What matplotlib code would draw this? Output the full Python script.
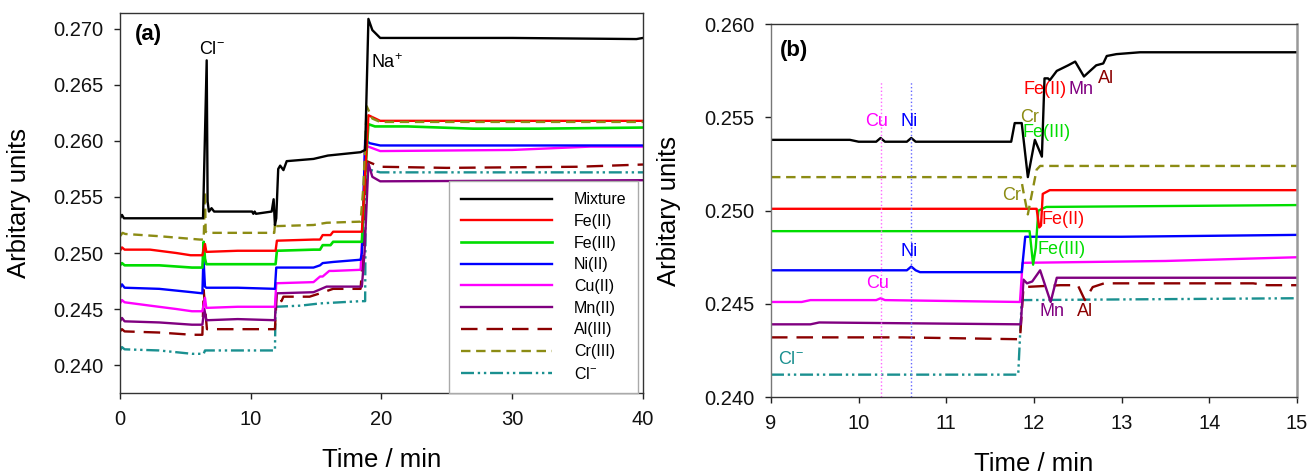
import matplotlib
matplotlib.use("Agg")
import matplotlib.pyplot as plt
from matplotlib.ticker import FormatStrFormatter

plt.rcParams['font.family'] = ['Liberation Sans', 'DejaVu Sans']
plt.rcParams['mathtext.fontset'] = 'custom'
plt.rcParams['mathtext.rm'] = 'Liberation Sans'
plt.rcParams['mathtext.it'] = 'Liberation Sans'
plt.rcParams['mathtext.bf'] = 'Liberation Sans:bold'

# ---- panel (a): full run, 0-40 min ----
mix_a_t = [0, 0.15, 0.3, 0.5, 6.35, 6.63, 6.7, 6.8, 7.0, 7.2, 10.1, 10.2, 10.3, 10.4, 11.6, 11.75, 11.85, 11.95, 12.1, 12.25, 12.5, 12.75, 14.8, 15.9, 18.4, 18.75, 19.0, 19.3, 19.9, 30, 39.5, 40]
mix_a_v = [0.2531, 0.2534, 0.2531, 0.2531, 0.2531, 0.2672, 0.2546, 0.2537, 0.2540, 0.2537, 0.2537, 0.2535, 0.2537, 0.2535, 0.2537, 0.2548, 0.2525, 0.2531, 0.2575, 0.2578, 0.2574, 0.2582, 0.2584, 0.2587, 0.2590, 0.2592, 0.2709, 0.2699, 0.2692, 0.2692, 0.2691, 0.2692]

fe2_a_t = [0, 0.15, 0.35, 2.3, 4.3, 5.4, 6.3, 6.5, 6.6, 9.0, 11.9, 12.0, 14.8, 15.3, 15.5, 16.1, 16.3, 18.5, 18.7, 19.0, 19.9, 30, 40]
fe2_a_v = [0.2502, 0.2505, 0.2503, 0.2503, 0.2500, 0.2498, 0.2498, 0.2508, 0.2501, 0.2502, 0.2502, 0.2511, 0.2512, 0.2512, 0.2516, 0.2516, 0.2519, 0.2519, 0.2560, 0.2623, 0.2618, 0.2618, 0.2618]

fe3_a_t = [0, 0.15, 0.35, 3.0, 5.5, 6.3, 6.4, 6.5, 6.6, 11.9, 12.0, 14.8, 15.3, 15.5, 16.1, 16.3, 18.5, 18.7, 19.0, 19.5, 22, 27, 32, 40]
fe3_a_v = [0.2489, 0.2491, 0.2489, 0.2489, 0.2487, 0.2487, 0.2510, 0.2495, 0.2490, 0.2490, 0.2502, 0.2503, 0.2503, 0.2507, 0.2507, 0.2510, 0.2510, 0.2560, 0.2615, 0.2613, 0.2613, 0.2611, 0.2611, 0.2612]

ni_a_t = [0, 0.15, 0.35, 3.0, 5.5, 6.3, 6.38, 6.5, 6.6, 9.0, 11.85, 11.95, 14.8, 15.3, 15.5, 16.3, 18.4, 18.5, 18.75, 19.1, 19.9, 40]
ni_a_v = [0.2469, 0.2472, 0.2469, 0.2468, 0.2465, 0.2464, 0.2496, 0.2470, 0.2469, 0.2469, 0.2468, 0.2487, 0.2487, 0.2489, 0.2491, 0.2492, 0.2494, 0.2500, 0.2601, 0.2598, 0.2596, 0.2596]

cu_a_t = [0, 0.15, 0.35, 2.3, 4.3, 5.5, 6.3, 6.5, 6.6, 9.0, 11.85, 11.95, 14.8, 15.3, 15.5, 16.0, 16.3, 18.4, 18.55, 18.75, 19.9, 30, 36, 40]
cu_a_v = [0.2455, 0.2458, 0.2456, 0.2453, 0.2450, 0.2448, 0.2448, 0.2460, 0.2451, 0.2452, 0.2452, 0.2473, 0.2474, 0.2479, 0.2479, 0.2484, 0.2484, 0.2485, 0.2520, 0.2596, 0.2591, 0.2592, 0.2595, 0.2595]

mn_a_t = [0, 0.15, 0.35, 3.0, 5.5, 6.3, 6.45, 6.6, 6.7, 9.0, 11.85, 11.95, 14.8, 15.8, 16.3, 18.5, 18.7, 19.0, 19.3, 19.9, 40]
mn_a_v = [0.2439, 0.2442, 0.2439, 0.2438, 0.2436, 0.2436, 0.2450, 0.2440, 0.2440, 0.2441, 0.2440, 0.2464, 0.2465, 0.2470, 0.2470, 0.2470, 0.2500, 0.2580, 0.2568, 0.2564, 0.2565]

al_a_t = [0, 0.15, 0.35, 3.0, 5.5, 6.3, 6.4, 6.55, 6.65, 9.0, 11.85, 11.99, 12.2, 12.35, 12.5, 12.75, 14.5, 15.3, 16.3, 18.4, 18.6, 18.87, 19.9, 25, 35, 40]
al_a_v = [0.2430, 0.2432, 0.2430, 0.2429, 0.2427, 0.2427, 0.2467, 0.2445, 0.2432, 0.2432, 0.2432, 0.2464, 0.2462, 0.2457, 0.2461, 0.2461, 0.2461, 0.2464, 0.2468, 0.2468, 0.2500, 0.2582, 0.2577, 0.2576, 0.2577, 0.2579]

cr_a_t = [0, 0.2, 0.4, 3.0, 6.1, 6.4, 6.5, 6.55, 6.7, 11.8, 11.86, 11.95, 14.8, 15.8, 18.4, 18.62, 18.87, 19.3, 19.9, 40]
cr_a_v = [0.2515, 0.2518, 0.2517, 0.2515, 0.2512, 0.2512, 0.2555, 0.2519, 0.2518, 0.2518, 0.2527, 0.2524, 0.2525, 0.2527, 0.2528, 0.2560, 0.2631, 0.2620, 0.2617, 0.2617]

cl_a_t = [0, 0.15, 0.35, 3.0, 5.5, 6.4, 6.5, 6.6, 9.0, 11.85, 11.9, 13.8, 15.3, 18.4, 18.75, 18.8, 19.2, 19.9, 40]
cl_a_v = [0.2413, 0.2416, 0.2414, 0.2413, 0.2410, 0.2410, 0.2413, 0.2413, 0.2413, 0.2413, 0.2452, 0.2453, 0.2455, 0.2457, 0.2457, 0.2574, 0.2574, 0.2572, 0.2572]

# ---- panel (b): zoom 9-15 min ----
mix_b_t = [9, 9.9, 10.0, 10.2, 10.25, 10.3, 10.55, 10.6, 10.65, 11.0, 11.74, 11.78, 11.86, 11.93, 12.01, 12.09, 12.12, 12.16, 12.18, 12.26, 12.39, 12.47, 12.57, 12.71, 12.79, 12.83, 12.94, 13.21, 15]
mix_b_v = [0.2538, 0.2538, 0.2537, 0.2537, 0.2539, 0.2537, 0.2537, 0.2539, 0.2537, 0.2537, 0.2537, 0.2547, 0.2547, 0.2518, 0.2538, 0.2529, 0.2571, 0.2571, 0.2570, 0.2575, 0.2578, 0.2580, 0.2572, 0.2578, 0.2579, 0.2583, 0.2584, 0.2585, 0.2585]

fe2_b_t = [9, 12.03, 12.06, 12.08, 12.1, 12.18, 15]
fe2_b_v = [0.2501, 0.2501, 0.2491, 0.2492, 0.2509, 0.2511, 0.2511]

fe3_b_t = [9, 11.95, 11.97, 11.99, 12.02, 12.05, 12.14, 15]
fe3_b_v = [0.2489, 0.2489, 0.2480, 0.2471, 0.2480, 0.2500, 0.2502, 0.2503]

ni_b_t = [9, 10.5, 10.55, 10.6, 10.65, 10.7, 11.86, 11.9, 13, 15]
ni_b_v = [0.2468, 0.2468, 0.2468, 0.2470, 0.2468, 0.2467, 0.2467, 0.2486, 0.2486, 0.2487]

cu_b_t = [9, 9.35, 9.45, 10.2, 10.25, 10.3, 11.84, 11.87, 13.5, 15]
cu_b_v = [0.2451, 0.2451, 0.2452, 0.2452, 0.2453, 0.2452, 0.2451, 0.2472, 0.2473, 0.2475]

mn_b_t = [9, 9.45, 9.55, 11.85, 11.88, 11.92, 11.98, 12.07, 12.19, 12.26, 15]
mn_b_v = [0.2439, 0.2439, 0.2440, 0.2439, 0.2463, 0.2461, 0.2462, 0.2468, 0.2451, 0.2464, 0.2464]

al_b_t = [9, 10.5, 11.84, 11.88, 12.3, 12.5, 12.58, 12.67, 12.8, 14.5, 14.66, 15]
al_b_v = [0.2432, 0.2432, 0.2431, 0.2459, 0.2460, 0.2460, 0.2452, 0.2459, 0.2461, 0.2461, 0.2460, 0.2460]

cr_b_t = [9, 11.85, 11.88, 11.93, 12.03, 12.07, 15]
cr_b_v = [0.2518, 0.2518, 0.2510, 0.2498, 0.2522, 0.2524, 0.2524]

cl_b_t = [9, 11.82, 11.86, 15]
cl_b_v = [0.2412, 0.2412, 0.2452, 0.2453]

labels = ['Mixture', 'Fe(II)', 'Fe(III)', 'Ni(II)', 'Cu(II)', 'Mn(II)', 'Al(III)', 'Cr(III)', r'Cl$^{-}$']
colors = ['#000000', '#ff0000', '#00dd00', '#0000ff', '#ff00ff', '#800080', '#8b0000', '#8c8c14', '#1a9090']
styles = ['-', '-', '-', '-', '-', '-', (0, (7, 3.8)), (0, (4, 2.4)), (0, (5.5, 1.6, 1, 1.6, 1, 1.6))]

series_a = [(mix_a_t, mix_a_v), (fe2_a_t, fe2_a_v), (fe3_a_t, fe3_a_v), (ni_a_t, ni_a_v), (cu_a_t, cu_a_v),
            (mn_a_t, mn_a_v), (al_a_t, al_a_v), (cr_a_t, cr_a_v), (cl_a_t, cl_a_v)]
series_b = [(mix_b_t, mix_b_v), (fe2_b_t, fe2_b_v), (fe3_b_t, fe3_b_v), (ni_b_t, ni_b_v), (cu_b_t, cu_b_v),
            (mn_b_t, mn_b_v), (al_b_t, al_b_v), (cr_b_t, cr_b_v), (cl_b_t, cl_b_v)]

# draw order: coloured first, mixture on top
order = [8, 6, 5, 4, 3, 2, 1, 7, 0]

fig = plt.figure(figsize=(13.13, 4.75), dpi=100)
ax1 = fig.add_axes([0.0914, 0.1726, 0.3983, 0.7994])
ax2 = fig.add_axes([0.5872, 0.1642, 0.4006, 0.7846])

handles = [None] * 9
for i in order:
    t, v = series_a[i]
    lw = 1.9 if i == 2 else 1.7
    ln, = ax1.plot(t, v, color=colors[i], linestyle=styles[i], lw=lw, label=labels[i])
    handles[i] = ln
    t, v = series_b[i]
    ax2.plot(t, v, color=colors[i], linestyle=styles[i], lw=1.7)

# dotted guides in (b)
ax2.plot([10.25, 10.25], [0.240, 0.2569], color='#ff66ff', lw=1, linestyle=':')
ax2.plot([10.6, 10.6], [0.240, 0.2569], color='#6666ff', lw=1, linestyle=':')

ax1.set_xlim(0, 40)
ax1.set_ylim(0.2375, 0.2714)
ax1.set_xticks([0, 10, 20, 30, 40])
ax1.set_yticks([0.240, 0.245, 0.250, 0.255, 0.260, 0.265, 0.270])
ax2.set_xlim(9, 15)
ax2.set_ylim(0.240, 0.260)
ax2.set_xticks([9, 10, 11, 12, 13, 14, 15])
ax2.set_yticks([0.240, 0.245, 0.250, 0.255, 0.260])

for ax in (ax1, ax2):
    ax.yaxis.set_major_formatter(FormatStrFormatter('%.3f'))
    ax.tick_params(direction='out', length=4, width=1, pad=8, labelsize=14.5, colors='#222222')
    ax.tick_params(labelcolor='#111111')
    for s in ax.spines.values():
        s.set_color('#333333')
        s.set_linewidth(1)
    ax.set_xlabel('Time / min', fontsize=18.5)
    ax.set_ylabel('Arbitary units', fontsize=18.5)

ax2.spines['left'].set_color('#777777')
ax2.spines['right'].set_color('#999999')
ax2.spines['right'].set_linewidth(1.8)

ax1.xaxis.set_label_coords(0.5, -0.145)
ax1.yaxis.set_label_coords(-0.17, 0.5)
ax2.xaxis.set_label_coords(0.5, -0.148)
ax2.yaxis.set_label_coords(-0.172, 0.5)

ax1.text(0.054, 0.945, '(a)', transform=ax1.transAxes, fontsize=16, fontweight='bold', ha='center', va='center')
ax2.text(0.044, 0.930, '(b)', transform=ax2.transAxes, fontsize=16, fontweight='bold', ha='center', va='center')

ax1.text(7.0, 0.2682, r'Cl$^{-}$', fontsize=13, ha='center', va='center')
ax1.text(20.45, 0.2670, r'Na$^{+}$', fontsize=13, ha='center', va='center')

leg = ax1.legend(handles=handles, labels=labels, loc='lower right', bbox_to_anchor=(0.99, 0.0),
                 borderaxespad=0, fontsize=11.5, handlelength=5.7, handletextpad=1.4,
                 labelspacing=0.42, borderpad=0.7, fancybox=False, framealpha=1)
leg.get_frame().set_edgecolor('#aaaaaa')
leg.get_frame().set_linewidth(1)

# annotations in (b)
notes = [
    ('Cu', 10.20, 0.2548, '#ff00ff'), ('Ni', 10.57, 0.2548, '#0000ff'),
    ('Ni', 10.57, 0.2478, '#0000ff'), ('Cu', 10.22, 0.2461, '#ff00ff'),
    (r'Cl$^{-}$', 9.23, 0.2420, '#1a9090'),
    ('Fe(II)', 12.13, 0.2565, '#ff0000'), ('Mn', 12.54, 0.2565, '#800080'), ('Al', 12.82, 0.2571, '#8b0000'),
    ('Cr', 11.95, 0.2550, '#8c8c14'), ('Fe(III)', 12.14, 0.2542, '#00dd00'),
    ('Cr', 11.74, 0.2508, '#8c8c14'), ('Fe(II)', 12.33, 0.2495, '#ff0000'),
    ('Fe(III)', 12.32, 0.2479, '#00dd00'),
    ('Mn', 12.21, 0.2446, '#800080'), ('Al', 12.58, 0.2446, '#8b0000'),
]
for txt, x, y, c in notes:
    ax2.text(x, y, txt, color=c, fontsize=13, ha='center', va='center')

fig.savefig('out.png', dpi=100)
